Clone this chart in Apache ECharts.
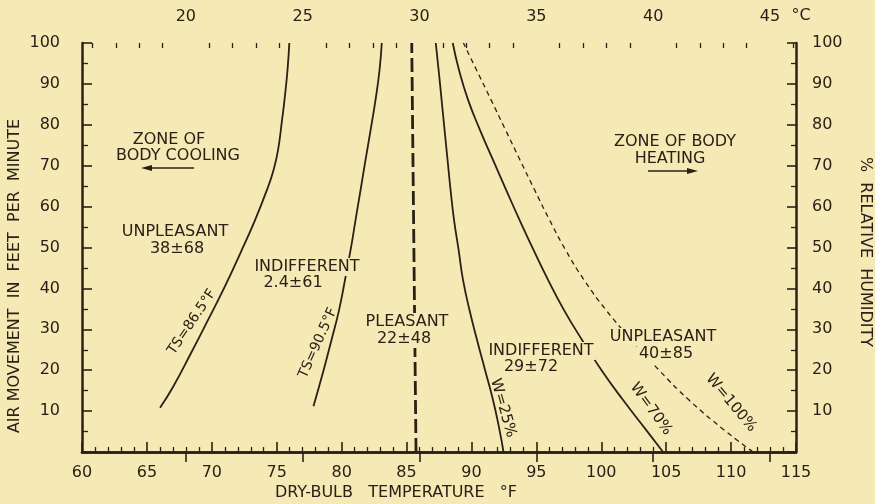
<!DOCTYPE html>
<html><head><meta charset="utf-8">
<script src="https://cdn.jsdelivr.net/npm/echarts@6/dist/echarts.min.js"></script>
<style>html,body{margin:0;padding:0;background:#F5E9B6}#c{width:875px;height:504px}</style>
</head><body><div id="c"></div>
<script>
// ---- data ----
// x = dry-bulb temperature (°F), y = air movement (ft/min)
const celsiusLabels = [20, 25, 30, 35, 40, 45];
const celsiusMinor = [16,17,18,19,21,22,23,24,26,27,28,29,31,32,33,34,36,37,38,39,41,42,43,44,46];
const ts865 = [[66.01,10.8],[67.01,15.9],[68.40,24.2],[69.71,32.3],[70.98,40.3],[72.21,48.7],[73.33,56.7],[74.33,64.8],[74.75,68.9],[75.10,73.8],[75.41,81.2],[75.60,86.1],[75.83,93.4],[75.97,100]];
const ts905 = [[77.83,11.2],[78.61,20.0],[79.22,27.4],[79.80,34.7],[80.26,42.1],[80.69,49.4],[81.07,56.7],[81.46,64.1],[81.84,71.4],[82.23,78.7],[82.61,86.1],[82.92,93.4],[83.09,100]];
const pleasantBoundary = [[85.73,0],[85.40,100]];
const w25 = [[92.47,0],[92.16,5.4],[91.66,12.7],[91.05,20.0],[90.43,27.4],[89.85,34.7],[89.35,42.1],[89.01,49.4],[88.66,56.7],[88.39,64.1],[88.16,71.4],[87.93,78.7],[87.70,86.1],[87.47,93.4],[87.25,100]];
const w70 = [[104.76,0],[103.45,5.4],[101.68,12.7],[100.02,20.0],[98.52,27.4],[97.13,34.7],[95.90,42.1],[94.78,49.4],[93.71,56.7],[92.67,64.1],[91.66,71.4],[90.66,78.7],[89.74,86.1],[89.04,93.4],[88.56,100]];
const w100 = [[111.69,0],[109.46,5.4],[106.76,12.7],[104.45,20.0],[102.33,27.4],[100.37,34.7],[98.67,42.1],[97.25,49.4],[96.02,56.7],[94.86,64.1],[93.74,71.4],[92.63,78.7],[91.51,86.1],[90.39,93.4],[89.38,100]];

// ---- styling ----
const ink = '#2a2116';
const bg = '#F5E9B6';
const FF = 'DejaVu Sans';
const cToF = c => c * 1.8 + 32;

function t(text, x, y, size, extra) {
  return Object.assign({
    type: 'text', x: x, y: y, z: 100,
    style: Object.assign({
      text: text, fill: ink, font: size + 'px "' + FF + '"',
      textAlign: 'center', textVerticalAlign: 'middle', align: 'center', verticalAlign: 'middle'
    }, (extra && extra.style) || {})
  }, (extra && extra.el) || {});
}
function tb(text, x, y, size) { // text with a background box that interrupts the curves
  return t(text, x, y, size, { style: { backgroundColor: bg, padding: [1, 2] } });
}

const chart = echarts.init(document.getElementById('c'));
const axisLineStyle = { color: ink, width: 2.5 };
const lbl = { color: ink, fontSize: 16, fontFamily: FF };
const curve = { color: ink, width: 1.8 };

chart.setOption({
  backgroundColor: bg,
  animation: false,
  grid: { left: 82, right: 79, top: 43, bottom: 52 },
  xAxis: [
    { type: 'value', position: 'bottom', min: 60, max: 115, interval: 5,
      axisLine: { lineStyle: axisLineStyle },
      axisTick: { inside: true, length: 10, lineStyle: { color: ink, width: 1.6 } },
      minorTick: { show: true, splitNumber: 5, length: 5, lineStyle: { color: ink, width: 1.3 } },
      axisLabel: Object.assign({ margin: 13 }, lbl),
      splitLine: { show: false } },
    { type: 'value', position: 'top', min: 60, max: 115,
      axisLine: { lineStyle: axisLineStyle },
      axisTick: { inside: true, length: 10, customValues: celsiusLabels.map(cToF), lineStyle: { color: ink, width: 1.6 } },
      axisLabel: Object.assign({ margin: 18, customValues: celsiusLabels.map(cToF),
        formatter: v => String(Math.round((v - 32) / 1.8)) }, lbl),
      splitLine: { show: false } },
    { type: 'value', position: 'top', min: 60, max: 115,
      axisLine: { show: false },
      axisTick: { inside: true, length: 5, customValues: celsiusMinor.map(cToF), lineStyle: { color: ink, width: 1.3 } },
      axisLabel: { show: false },
      splitLine: { show: false } }
  ],
  yAxis: [
    { type: 'value', position: 'left', min: 0, max: 100, interval: 10,
      axisLine: { lineStyle: axisLineStyle },
      axisTick: { inside: true, length: 10, lineStyle: { color: ink, width: 1.6 } },
      minorTick: { show: true, splitNumber: 2, length: 6, lineStyle: { color: ink, width: 1.3 } },
      axisLabel: Object.assign({ margin: 22, formatter: v => v === 0 ? '' : String(v) }, lbl),
      splitLine: { show: false } },
    { type: 'value', position: 'right', min: 0, max: 100, interval: 10,
      axisLine: { lineStyle: axisLineStyle },
      axisTick: { inside: true, length: 9, lineStyle: { color: ink, width: 1.6 } },
      minorTick: { show: true, splitNumber: 2, length: 5, lineStyle: { color: ink, width: 1.3 } },
      axisLabel: Object.assign({ margin: 16, padding: [0, 0, 6, 0], formatter: v => v === 0 ? '' : String(v) }, lbl),
      splitLine: { show: false } }
  ],
  series: [
    { type: 'line', data: ts865, smooth: 0.5, showSymbol: false, silent: true, lineStyle: curve },
    { type: 'line', data: ts905, smooth: 0.5, showSymbol: false, silent: true, lineStyle: curve },
    { type: 'line', data: pleasantBoundary, showSymbol: false, silent: true, lineStyle: { color: ink, width: 2.8, type: [14, 5] } },
    { type: 'line', data: w25, smooth: 0.5, showSymbol: false, silent: true, lineStyle: curve },
    { type: 'line', data: w70, smooth: 0.5, showSymbol: false, silent: true, lineStyle: curve },
    { type: 'line', data: w100, smooth: 0.5, showSymbol: false, silent: true, lineStyle: { color: ink, width: 1.3, type: [5, 4] } }
  ],
  graphic: [
    // axis titles
    t('AIR MOVEMENT  IN  FEET  PER  MINUTE', 15, 276, 16, { el: { rotation: Math.PI / 2 } }),
    t('%  RELATIVE  HUMIDITY', 865, 252, 16, { el: { rotation: -Math.PI / 2 } }),
    t('DRY-BULB   TEMPERATURE   °F', 396, 493, 16),
    t('°C', 801, 16, 16),
    // zones
    t('ZONE OF', 169, 140, 16),
    t('BODY COOLING', 178, 156, 16),
    { type: 'line', z: 100, shape: { x1: 194, y1: 168, x2: 148, y2: 168 }, style: { stroke: ink, lineWidth: 1.5 } },
    { type: 'polygon', z: 100, shape: { points: [[141, 168], [152, 165], [152, 171]] }, style: { fill: ink } },
    t('ZONE OF BODY', 675, 142, 16),
    t('HEATING', 670, 159, 16),
    { type: 'line', z: 100, shape: { x1: 648, y1: 171, x2: 690, y2: 171 }, style: { stroke: ink, lineWidth: 1.5 } },
    { type: 'polygon', z: 100, shape: { points: [[698, 171], [687, 168], [687, 174]] }, style: { fill: ink } },
    // region labels
    t('UNPLEASANT', 175, 232, 16),
    t('38±68', 177, 249, 16),
    tb('INDIFFERENT', 307, 267, 16),
    t('2.4±61', 293, 283, 16),
    tb('PLEASANT', 407, 322, 16),
    tb('22±48', 404, 339, 16),
    tb('INDIFFERENT', 541, 351, 16),
    t('29±72', 531, 367, 16),
    tb('UNPLEASANT', 663, 337, 16),
    tb('40±85', 666, 354, 16),
    // curve labels
    t('TS=86.5°F', 192, 322, 14, { el: { rotation: 56 * Math.PI / 180 } }),
    t('TS=90.5°F', 318, 343, 14, { el: { rotation: 66 * Math.PI / 180 } }),
    t('W=25%', 503, 408, 15, { el: { rotation: -74 * Math.PI / 180 } }),
    t('W=70%', 651, 409, 15, { el: { rotation: -54 * Math.PI / 180 } }),
    t('W=100%', 731, 403, 15, { el: { rotation: -50 * Math.PI / 180 } })
  ]
});
</script></body></html>
